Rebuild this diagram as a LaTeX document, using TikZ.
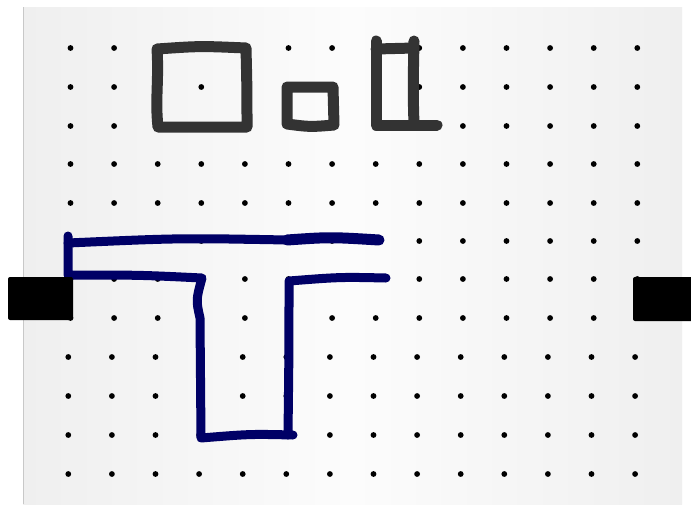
\documentclass[tikz,border=0pt]{standalone}
\usetikzlibrary{calc}
\definecolor{ink}{HTML}{333333}
\definecolor{marker}{HTML}{000066}
\definecolor{edgegray}{HTML}{EFEFEF}
\definecolor{midgray}{HTML}{FCFCFC}
\definecolor{borderline}{HTML}{C8C8C8}
\tikzset{
  griddot/.style={fill=black, draw=none},
  grayink/.style={draw=ink, line width=11pt, line cap=round, line join=round},
  blueink/.style={draw=marker, line width=9pt, line cap=round, line join=round},
  pad/.style={fill=black, draw=none, rounded corners=2pt}
}
\begin{document}
\begin{tikzpicture}[x=1pt,y=-1pt]
\useasboundingbox (0,0) rectangle (691,504);
\fill[white] (0,0) rectangle (691,504);
% panel with horizontal gradient
\shade[left color=edgegray, right color=midgray] (23,7) rectangle (352,504);
\shade[left color=midgray, right color=edgegray] (352,7) rectangle (682,504);
\draw[borderline, line width=1.2pt] (23.5,7) -- (23.5,504);
% dot grid
\foreach \y in {48,87,126,164,203,241,279,318} {
  \foreach \i in {0,...,13} {
    \fill[griddot] ({70.5+43.6*\i},\y) circle (2.9);
  }
}
\foreach \y in {357,396,435,474} {
  \foreach \i in {0,...,13} {
    \fill[griddot] ({68.3+43.6*\i},\y) circle (2.9);
  }
}
% gray hand-drawn shapes
\draw[grayink] (157,49) .. controls (200,46) .. (246,48) .. controls (247,90) .. (247,127) -- (158,127) .. controls (155,100) and (159,80) .. cycle;
\draw[grayink] (287,87) -- (333,87) -- (334,125) .. controls (310,127) .. (287,124) -- cycle;
\draw[grayink] (376,41) -- (376,125) -- (437,125);
\draw[grayink] (376,49) -- (414,48);
\draw[grayink] (414,41) .. controls (413,90) .. (414,125);
% blue marker T
\draw[blueink] (68,236) -- (68,275) .. controls (140,275) .. (202,278) .. controls (196,300) .. (200,318) -- (201,438) .. controls (250,434) .. (293,435);
\draw[blueink] (68,243) .. controls (180,238) .. (287,240);
\draw[marker, line width=11pt, line cap=round] (287,240) .. controls (330,237) .. (379,240);
\draw[blueink] (288,435) .. controls (289,350) .. (289,281) .. controls (340,277) .. (386,278);
% black pads
\fill[pad] (8,277) rectangle (73,320);
\fill[pad] (633,277) rectangle (700,321);
\end{tikzpicture}
\end{document}
